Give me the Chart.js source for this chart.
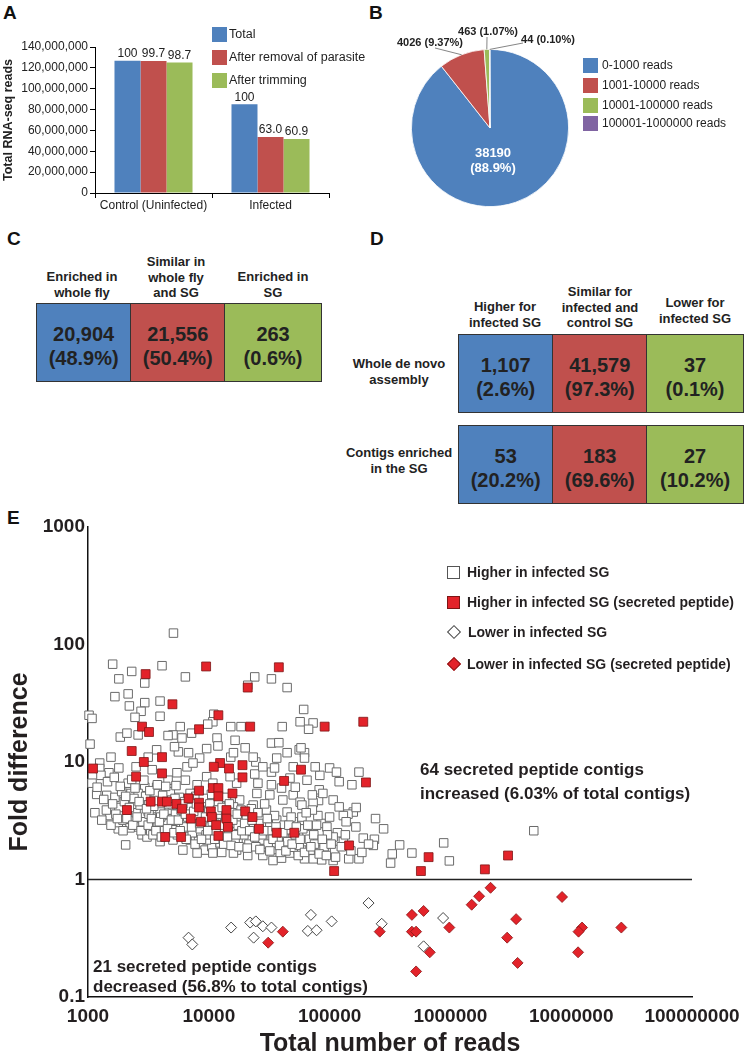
<!DOCTYPE html>
<html>
<head>
<meta charset="utf-8">
<script src="https://cdn.jsdelivr.net/npm/chart.js@4.4.0/dist/chart.umd.min.js"></script>
<style>
  body { margin: 0; background: #fff; font-family: "Liberation Sans", Arial, sans-serif; color: #222; }
  #page { position: relative; width: 748px; height: 1057px; overflow: hidden; }
  canvas { position: absolute; }
  .letter { position: absolute; font-weight: bold; font-size: 19px; line-height: 20px; color: #111; }
  .lg { position: absolute; display: flex; align-items: center; height: 16px; white-space: nowrap; }
  .sw { width: 15px; height: 15px; flex: none; }
  .hdr { position: absolute; font-weight: bold; font-size: 13px; line-height: 15.5px; text-align: center; white-space: nowrap; }
  .box { position: absolute; display: flex; border: 1.5px solid #333; box-sizing: border-box; }
  .cell { height: 100%; display: flex; align-items: center; justify-content: center; text-align: center;
          font-weight: bold; font-size: 20px; line-height: 24.5px; padding-top: 7px; box-sizing: border-box; color: #222; }
  .cell + .cell { border-left: 1.5px solid #333; }
  .note { position: absolute; font-weight: bold; font-size: 17px; white-space: nowrap; color: #231f20; }
  .elg { position: absolute; display: flex; align-items: center; height: 18px; font-weight: bold; font-size: 14px; white-space: nowrap; color: #231f20; }
  .mk { width: 13px; height: 13px; box-sizing: border-box; margin-right: 7px; flex: none; }
</style>
</head>
<body>
<div id="page">
  <div class="letter" style="left:3px;top:3px">A</div>
  <div class="letter" style="left:369px;top:3px">B</div>
  <div class="letter" style="left:7px;top:229px">C</div>
  <div class="letter" style="left:370px;top:229px">D</div>
  <div class="letter" style="left:7px;top:508px">E</div>

  <canvas id="barChart" width="340" height="215" style="left:0;top:0"></canvas>
  <div id="barLegend"></div>

  <canvas id="pieChart" width="210" height="200" style="left:380px;top:20px"></canvas>
  <div id="pieLegend"></div>

  <div id="panelC"></div>
  <div id="panelD"></div>

  <canvas id="scatterChart" width="748" height="547" style="left:0;top:510px"></canvas>
  <div id="scatterLegend"></div>
  <div class="note" style="left:420px;top:758px;line-height:24px">64 secreted peptide contigs<br>increased (6.03% of total contigs)</div>
  <div class="note" style="left:93px;top:957px;line-height:20px">21 secreted peptide contigs<br>decreased (56.8% to total contigs)</div>
</div>

<script>
// ---- Panel A: total reads ----
const groupLabels = ['Control (Uninfected)', 'Infected'];
const readsTotal = [126900000, 85000000];
const readsNoParasite = [126500000, 53600000];
const readsTrimmed = [125200000, 51800000];
const pctTotal = ['100', '100'];
const pctNoParasite = ['99.7', '63.0'];
const pctTrimmed = ['98.7', '60.9'];
const barSeriesNames = ['Total', 'After removal of parasite', 'After trimming'];

// ---- Panel B: contigs by read count ----
const binLabels = ['0-1000 reads', '1001-10000 reads', '10001-100000 reads', '100001-1000000 reads'];
const binCounts = [38190, 4026, 463, 44];
const binText = ['38190|(88.9%)', '4026 (9.37%)', '463 (1.07%)', '44 (0.10%)'];

// ---- Panel C / D ----
const cHeaders = ['Enriched in<br>whole fly', 'Similar in<br>whole fly<br>and SG', 'Enriched in<br>SG'];
const cCounts = ['20,904', '21,556', '263'];
const cShares = ['48.9%', '50.4%', '0.6%'];
const dHeaders = ['Higher for<br>infected SG', 'Similar for<br>infected and<br>control SG', 'Lower for<br>infected SG'];
const dRowNames = ['Whole de novo<br>assembly', 'Contigs enriched<br>in the SG'];
const dCounts = [['1,107', '41,579', '37'], ['53', '183', '27']];
const dShares = [['2.6%', '97.3%', '0.1%'], ['20.2%', '69.6%', '10.2%']];

// ---- Panel E: fold difference vs reads ----
const higherSG = [
  [5100,125],[1600,68],[2300,59],[1800,51],[2950,47],[4100,66],[6400,53],[24000,53],[33000,51],[44500,43],
  [21000,45],[1670,36],[2150,38],[2200,30],[2950,32],[3950,33],[1020,25],[1080,23.5],[2750,27],[2450,24],
  [3950,24.5],[11000,25.5],[10800,22],[9800,21],[61000,28],[57000,22],[73000,21.5],[67000,19],[40500,20],[15200,20],
  [18500,20],[5800,20],[7200,17.6],[1850,16.3],[2100,17.6],[2600,17],[5050,17],[6000,16],[4600,16.8],[11700,16],
  [11900,13.7],[16500,15.3],[20000,13.2],[33000,14.5],[38000,14.6],[56000,12.7],[62000,12],[9600,13],[6800,12],[5600,12.2],
  [1550,11],[1250,9.8],[1040,14.2],[1080,6.6],[1180,5.3],[1140,3.7],[15200,11],[24500,10],[24000,7.9],[33000,8.2],
  [36500,10.8],[58000,13.2],[83000,7.7],[120000,6.8],[153000,6.4],[175000,8.2],[82000,5.8],[81000,4.7],[73000,4.5],[157000,3.75],
  [142000,3.6],[130000,3.5],[137000,3.1],[240000,3.3],[235000,2.2],[230000,1.95],[190000,2.25],[175000,1.5],[144000,1.5],[116000,2.5],
  [107000,1.45],[86000,1.47],[73000,1.5],[62000,1.5],[85000,3],[73000,2.5],[60000,2.1],[92000,2.05],[80000,1.78],[2050,1.97],
  [1780,2.7],[1780,3.05],[1520,3.5],[1250,8.8],[1490,8.1],[1280,7.7],[1800,8.9],[1190,6.1],[1430,5.2],[1670,5],
  [1800,4.1],[2270,5.4],[2150,6.6],[2500,9.1],[3400,8.6],[3150,11],[3700,12.7],[5200,13.5],[6600,9.1],[5450,8.1],
  [8400,10.8],[7400,9.8],[4600,7],[6400,7],[3700,6.1],[2950,6.1],[2600,5.4],[3100,4.55],[2360,3.4],[2600,2.8],
  [2800,2.4],[3400,2.8],[3700,3.4],[4500,3],[5450,2.8],[5050,3.3],[6100,1.78],[7000,2.17],[8100,2.5],[9300,1.78],
  [10600,1.9],[12800,1.7],[17000,1.78],[21000,1.6],[28000,1.6],[34000,1.45],[40000,1.52],[47000,1.68],[55000,1.78],[44500,1.9],
  [37000,1.8],[30000,1.9],[25000,2.05],[18000,2.1],[15000,2.3],[23300,2.5],[30000,2.3],[42000,2.3],[54000,2.17],[65000,2.4],
  [47000,2.65],[32000,2.8],[22000,2.9],[16500,2.8],[18000,3.2],[26500,3.3],[36500,3.2],[50000,3.1],[59000,3.4],[44500,3.75],
  [30000,3.9],[23300,4.3],[18000,4.75],[25000,5.4],[32000,5.25],[41000,4.75],[50000,5.25],[57000,4.55],[33000,6.4],[40000,6],
  [25500,6.6],[17000,6.6],[15000,7.5],[9600,7.5],[10800,6.6],[8000,6.4],[7000,5.4],[9600,4.75],[12400,4.3],[16000,4.15],
  [9000,3.7],[7000,3.7],[6000,3.2],[3950,3.75],[3150,3.8],[2360,4.15],[1950,3.2],[2230,2.75],[3080,2.3],[3950,2.1],
  [5050,2.17],[6600,2.3],[9600,2.17],[12400,2.05],[16000,1.68],[10800,1.68],[8000,1.68],[5050,2.65],[8000,2.9],[12400,2.65],
  [16000,2.55],[20500,2.17],[28000,2.17],[36500,2.05],[50000,1.88],[69000,1.78],[55000,1.6],[110000,1.8],[130000,2.1],[107000,2.3],
  [95000,2.8],[100000,3.4],[80000,3.5],[72000,3.9],[59000,4.3],[72000,5.25],[52000,6.1],[65000,7],[47000,7.3],[50000,9.1],
  [35000,8.9],[28000,9.1],[23300,11],[16000,12],[44500,12],[62000,10.8],[76000,9.1],[100000,8.9],[114000,8.2],[88000,5.4],
  [107000,4.75],[120000,4.15],[166000,4.1],[280000,2.7],[380000,1.97],[330000,1.65],[320000,1.38],[480000,1.68],[880000,2.05],[980000,1.44],
  [4900000,2.6],
  [1350,4.8],[1420,3.9],[1600,4.4],[1700,3.6],[1900,5.6],[2000,4.6],[2100,3.3],[2400,4.9],[2500,3.7],[2700,4.3],
  [2850,3.1],[3000,5.1],[3200,3.6],[3300,2.6],[3500,4.2],[3600,5.4],[3800,2.9],[4000,3.4],[4200,4.8],[4300,2.6],
  [4700,3.9],[4800,5.6],[5000,4.3],[5300,3.6],[5500,2.4],[5700,5.0],[5900,3.9],[6200,2.8],[6300,4.6],[6700,3.4],
  [7100,4.1],[7300,2.5],[7600,3.0],[7800,5.1],[8200,3.5],[8500,2.7],[8800,4.3],[9200,3.1],[9500,2.4],[10000,3.9],
  [10300,2.8],[10500,5.3],[11000,3.3],[11500,2.5],[12000,4.6],[12600,3.6],[13000,2.3],[13500,3.0],[14000,5.0],[14500,2.6],
  [15500,3.7],[16500,2.1],[17500,2.9],[18500,3.9],[19500,2.4],[20500,3.4],[21500,2.0],[22500,4.0],[23500,2.7],[24500,1.9],
  [26000,3.0],[27500,2.4],[29000,4.4],[31000,2.0],[33000,2.6],[35000,3.5],[37500,2.2],[39000,1.7],[42000,2.9],[45000,2.1],
  [48000,3.4],[52000,2.4],[56000,1.95],[60000,2.7],[64000,3.7],[68000,2.2],[75000,2.0],[78000,2.9],[90000,1.9],[96000,2.4],
  [1300,3.2],[1450,6.8],[1550,2.9],[1650,7.4],[1750,3.3],[1850,6.2],[1950,2.6],[2050,5.1],[2200,4.1],[2300,7.1],
  [2350,2.9],[2450,6.0],[2550,3.4],[2650,4.6],[2750,2.6],[2900,7.0],[3050,4.0],[3150,2.9],[3250,5.7],[3350,3.3],
  [3450,2.4],[3550,4.7],[3650,2.6],[3750,6.4],[3900,3.1],[4050,2.3],[4150,5.2],[4250,3.6],[4400,6.2],[4550,2.7],
  [4650,4.4],[4900,3.2],[5150,2.5],[5250,4.9],[5350,6.3],[5600,3.2],[5800,2.6],[6100,4.4],[6400,3.6],[6500,2.2],
  [6900,4.9],[7200,2.8],[7500,3.8],[7700,2.0],[7900,4.4],[8400,3.0],[8700,2.2],[9000,4.9],[9400,3.4],[9800,2.6],
  [10200,4.4],[10700,3.1],[11200,2.2],[11800,3.9],[12200,2.9],[12900,4.1],[13300,2.0],[13800,3.4],[14300,2.3],[14800,4.4],
  [15300,1.95],[15800,3.2],[16800,2.4],[17200,3.6],[17800,1.9],[18800,2.6],[19800,3.0],[20800,1.85],[21800,2.6],[22800,3.2],
  [24000,2.3],[25500,3.7],[26500,1.8],[28500,2.6],[30500,3.3],[32000,1.75],[34000,2.2],[36000,2.8],[38500,1.95],[41000,2.5],
  [43500,1.75],[46000,2.9],[49000,2.0],[53000,2.8],[57000,2.2],[62000,1.7],[66000,2.9],[70000,1.9],[74000,2.4],[82000,1.65],
  [87000,2.2],[94000,1.6],[103000,2.0],[112000,1.55],[125000,1.9],[135000,2.4],[150000,1.75],[165000,2.8],[185000,1.7],[210000,2.0]
];
const higherSGSecreted = [
  [1100,8.8],[3000,56],[9500,65],[38000,64],[21000,43],[5000,31],[12000,25],[2800,20],[3200,18],[8300,19],
  [22000,20],[91000,20],[190000,22],[2300,12.4],[4100,11],[2900,10],[12400,9.8],[11000,9.1],[14700,8.8],[19000,9.4],
  [58000,8.6],[4100,8],[2500,7.5],[19000,7.4],[42000,6.9],[200000,6.7],[8300,5.7],[10800,6],[12000,6],[12000,5.1],
  [15700,5.4],[3300,4.6],[4100,4.6],[4500,4.6],[5400,4.4],[6800,4.9],[8300,4.5],[8300,4.1],[6000,4],[2100,3.9],
  [10400,3.8],[14000,3.9],[20000,3.8],[10600,3.4],[14000,3.3],[23000,3.4],[7100,3.3],[8600,3.1],[11500,2.9],[14400,2.8],
  [26000,2.7],[36500,2.5],[51000,2.5],[4350,2.3],[5900,2.3],[12000,2.35],[145000,1.95],[109000,1.18],[660000,1.55],[570000,1.18],
  [1930000,1.22],[3000000,1.6]
];
const lowerSG = [
  [6800,0.32],[7300,0.28],[15300,0.39],[22000,0.43],[24500,0.44],[28000,0.40],[33000,0.39],[23500,0.32],
  [70000,0.5],[66000,0.365],[78000,0.37],[104000,0.44],[210000,0.63],[270000,0.42],[870000,0.47],[600000,0.27]
];
const lowerSGSecreted = [
  [2150000,0.85],[1730000,0.72],[1500000,0.61],[8400000,0.71],[480000,0.5],[600000,0.54],[3500000,0.46],
  [980000,0.39],[260000,0.36],[480000,0.36],[520000,0.36],[12300000,0.39],[11500000,0.36],[26000000,0.39],
  [2950000,0.32],[675000,0.24],[11400000,0.24],[3600000,0.195],[520000,0.165],[31000,0.29],[41000,0.36]
];
const readTicks = [1000, 10000, 100000, 1000000, 10000000, 100000000];
const foldTicks = [0.1, 1, 10, 100, 1000];
const legendNamesE = ['Higher in infected SG', 'Higher in infected SG (secreted peptide)',
                      'Lower in infected SG', 'Lower in infected SG (secreted peptide)'];

const BLUE = '#4f81bd', RED = '#c0504d', GREEN = '#9bbb59', PURPLE = '#8064a2';
const FONT = '"Liberation Sans", Arial, sans-serif';
Chart.defaults.font.family = FONT;
Chart.defaults.color = '#222';

// ---------- A ----------
const barValueLabels = {
  id: 'barValueLabels',
  afterDatasetsDraw(chart) {
    const ctx = chart.ctx;
    ctx.save();
    ctx.font = '12px ' + FONT;
    ctx.fillStyle = '#222';
    ctx.textAlign = 'center';
    ctx.textBaseline = 'bottom';
    chart.data.datasets.forEach((ds, i) => {
      chart.getDatasetMeta(i).data.forEach((bar, j) => {
        ctx.fillText(ds.pctLabels[j], bar.x, bar.y - 1);
      });
    });
    ctx.restore();
  }
};

new Chart(document.getElementById('barChart'), {
  type: 'bar',
  data: {
    labels: groupLabels,
    datasets: [
      { label: barSeriesNames[0], data: readsTotal, backgroundColor: BLUE, pctLabels: pctTotal },
      { label: barSeriesNames[1], data: readsNoParasite, backgroundColor: RED, pctLabels: pctNoParasite },
      { label: barSeriesNames[2], data: readsTrimmed, backgroundColor: GREEN, pctLabels: pctTrimmed }
    ]
  },
  options: {
    responsive: false,
    animation: false,
    devicePixelRatio: 1,
    events: [],
    layout: { padding: { left: 0, right: 11, top: 47, bottom: 0 } },
    categoryPercentage: 0.667,
    barPercentage: 1.0,
    plugins: { legend: { display: false }, tooltip: { enabled: false } },
    scales: {
      y: {
        min: 0, max: 140000000,
        afterFit: s => { s.width = 95; },
        ticks: { stepSize: 20000000, padding: 2, font: { size: 12 }, color: '#222',
                 callback: v => v.toLocaleString('en-US') },
        grid: { drawOnChartArea: false, drawTicks: true, tickLength: 5, color: '#000' },
        border: { display: true, color: '#000', width: 1 },
        title: { display: true, text: 'Total RNA-seq reads', font: { size: 12.5, weight: 'bold' },
                 padding: { top: 1, bottom: 0 }, color: '#222' }
      },
      x: {
        afterFit: s => { s.height = 22; },
        ticks: { padding: 0, font: { size: 12 }, color: '#222' },
        grid: { drawOnChartArea: false, drawTicks: true, tickLength: 5, color: '#000' },
        border: { display: true, color: '#000', width: 1 }
      }
    }
  },
  plugins: [barValueLabels]
});

const barLegend = document.getElementById('barLegend');
[BLUE, RED, GREEN].forEach((c, i) => {
  const row = document.createElement('div');
  row.className = 'lg';
  row.style.left = '212px';
  row.style.top = (26 + i * 23) + 'px';
  row.style.fontSize = '12.5px';
  row.innerHTML = `<span class="sw" style="background:${c};margin-right:2px"></span>${barSeriesNames[i]}`;
  barLegend.appendChild(row);
});

// ---------- B ----------
const pieLabels = {
  id: 'pieLabels',
  afterDraw(chart) {
    const ctx = chart.ctx;
    const arcs = chart.getDatasetMeta(0).data;
    const cx = arcs[0].x, cy = arcs[0].y;
    ctx.save();
    // inside label of the big slice
    ctx.fillStyle = '#fff';
    ctx.font = 'bold 13px ' + FONT;
    ctx.textAlign = 'center';
    ctx.textBaseline = 'middle';
    const inner = binText[0].split('|');
    ctx.fillText(inner[0], cx + 3, cy + 25);
    ctx.fillText(inner[1], cx + 3, cy + 40);
    // outside labels with leader lines
    const spots = [null, { tx: -60, ty: -85, lx: -55, ly: -80 },
                         { tx: -2, ty: -96, lx: -3, ly: -91 },
                         { tx: 58, ty: -88, lx: 33, ly: -85 }];
    ctx.font = 'bold 11px ' + FONT;
    for (let i = 1; i < arcs.length; i++) {
      const a = arcs[i];
      const mid = (a.startAngle + a.endAngle) / 2;
      const ex = cx + Math.cos(mid) * a.outerRadius;
      const ey = cy + Math.sin(mid) * a.outerRadius;
      const s = spots[i];
      ctx.strokeStyle = '#666';
      ctx.lineWidth = 0.8;
      ctx.beginPath();
      ctx.moveTo(cx + s.lx, cy + s.ly);
      ctx.lineTo(ex, ey);
      ctx.stroke();
      ctx.fillStyle = '#222';
      ctx.fillText(binText[i], cx + s.tx, cy + s.ty);
    }
    ctx.restore();
  }
};

new Chart(document.getElementById('pieChart'), {
  type: 'pie',
  data: {
    labels: binLabels,
    datasets: [{ data: binCounts, backgroundColor: [BLUE, RED, GREEN, PURPLE], borderColor: '#fff', borderWidth: 0.8 }]
  },
  options: {
    responsive: false,
    animation: false,
    devicePixelRatio: 1,
    events: [],
    layout: { padding: { left: 31, right: 21, top: 29, bottom: 13 } },
    plugins: { legend: { display: false }, tooltip: { enabled: false } }
  },
  plugins: [pieLabels]
});

const pieLegend = document.getElementById('pieLegend');
[BLUE, RED, GREEN, PURPLE].forEach((c, i) => {
  const row = document.createElement('div');
  row.className = 'lg';
  row.style.left = '583px';
  row.style.top = ([57, 77, 97, 115][i]) + 'px';
  row.style.fontSize = '12px';
  row.innerHTML = `<span class="sw" style="background:${c};margin-right:4px"></span>${binLabels[i]}`;
  pieLegend.appendChild(row);
});

// ---------- C ----------
const cellColors = [BLUE, RED, GREEN];
function makeBox(left, top, counts, shares) {
  const box = document.createElement('div');
  box.className = 'box';
  box.style.left = left + 'px';
  box.style.top = top + 'px';
  box.style.width = '286px';
  box.style.height = '79px';
  [95, 94, 97].forEach((w, i) => {
    const cell = document.createElement('div');
    cell.className = 'cell';
    cell.style.width = (w - (i === 0 ? 1.5 : 0)) + 'px';
    cell.style.background = cellColors[i];
    cell.innerHTML = `${counts[i]}<br>(${shares[i]})`;
    box.appendChild(cell);
  });
  return box;
}
const panelC = document.getElementById('panelC');
const cHdrPos = [[82, 269], [176, 254], [273, 269]];
cHeaders.forEach((h, i) => {
  const d = document.createElement('div');
  d.className = 'hdr';
  d.style.left = (cHdrPos[i][0] - 60) + 'px';
  d.style.width = '120px';
  d.style.top = cHdrPos[i][1] + 'px';
  d.innerHTML = h;
  panelC.appendChild(d);
});
panelC.appendChild(makeBox(36, 303, cCounts, cShares));

// ---------- D ----------
const panelD = document.getElementById('panelD');
const dHdrPos = [[505, 299], [600, 284], [695, 295]];
dHeaders.forEach((h, i) => {
  const d = document.createElement('div');
  d.className = 'hdr';
  d.style.left = (dHdrPos[i][0] - 60) + 'px';
  d.style.width = '120px';
  d.style.top = dHdrPos[i][1] + 'px';
  d.innerHTML = h;
  panelD.appendChild(d);
});
dRowNames.forEach((r, i) => {
  const d = document.createElement('div');
  d.className = 'hdr';
  d.style.left = '339px';
  d.style.width = '120px';
  d.style.top = [356, 445][i] + 'px';
  d.innerHTML = r;
  panelD.appendChild(d);
  panelD.appendChild(makeBox(458, [334, 425][i], dCounts[i], dShares[i]));
});

// ---------- E ----------
const unitLine = {
  id: 'unitLine',
  beforeDatasetsDraw(chart) {
    const { ctx, chartArea, scales } = chart;
    const y = scales.y.getPixelForValue(1);
    ctx.save();
    ctx.strokeStyle = '#222';
    ctx.lineWidth = 1.5;
    ctx.beginPath();
    ctx.moveTo(chartArea.left, y);
    ctx.lineTo(chartArea.right, y);
    ctx.stroke();
    ctx.restore();
  }
};
const toPts = arr => arr.map(p => ({ x: p[0], y: p[1] }));

// higher "order" is drawn first, so the red marks sit on top of the white ones
new Chart(document.getElementById('scatterChart'), {
  type: 'scatter',
  data: {
    datasets: [
      { label: legendNamesE[0], data: toPts(higherSG), pointStyle: 'rect', pointRadius: 6, order: 4,
        backgroundColor: '#fff', borderColor: '#6a6a6a', borderWidth: 1, clip: false },
      { label: legendNamesE[1], data: toPts(higherSGSecreted), pointStyle: 'rect', pointRadius: 6.3, order: 3,
        backgroundColor: '#e3232a', borderColor: '#7d1515', borderWidth: 0.8, clip: false },
      { label: legendNamesE[2], data: toPts(lowerSG), pointStyle: 'rectRot', pointRadius: 5.5, order: 2,
        backgroundColor: '#fff', borderColor: '#444', borderWidth: 1, clip: false },
      { label: legendNamesE[3], data: toPts(lowerSGSecreted), pointStyle: 'rectRot', pointRadius: 5.5, order: 1,
        backgroundColor: '#e3232a', borderColor: '#8a1717', borderWidth: 0.8, clip: false }
    ]
  },
  options: {
    responsive: false,
    animation: false,
    devicePixelRatio: 1,
    events: [],
    layout: { padding: { left: 0, right: 56, top: 17, bottom: 0 } },
    plugins: { legend: { display: false }, tooltip: { enabled: false } },
    scales: {
      x: {
        type: 'logarithmic', min: 1000, max: 100000000,
        afterFit: s => { s.height = 60; },
        afterBuildTicks: s => { s.ticks = readTicks.map(v => ({ value: v })); },
        ticks: { padding: 8, font: { size: 19, weight: 'bold' }, color: '#231f20', maxRotation: 0,
                 autoSkip: false, callback: v => String(v) },
        grid: { display: false, drawTicks: false },
        border: { display: true, color: '#111', width: 1.5 },
        title: { display: true, text: 'Total number of reads', font: { size: 25, weight: 'bold', lineHeight: 1 },
                 padding: { top: 0, bottom: 0 }, color: '#231f20' }
      },
      y: {
        type: 'logarithmic', min: 0.1, max: 1000,
        afterFit: s => { s.width = 88; },
        afterBuildTicks: s => { s.ticks = foldTicks.map(v => ({ value: v })); },
        ticks: { padding: 3, font: { size: 19, weight: 'bold' }, color: '#231f20', autoSkip: false,
                 callback: v => String(v) },
        grid: { display: false, drawTicks: false },
        border: { display: true, color: '#111', width: 1.5 },
        title: { display: true, text: 'Fold difference', font: { size: 25, weight: 'bold', lineHeight: 1 },
                 padding: { top: 8, bottom: 0 }, color: '#231f20' }
      }
    }
  },
  plugins: [unitLine]
});

const scatterLegend = document.getElementById('scatterLegend');
const markCss = [
  'background:#fff;border:1px solid #555',
  'background:#e3232a;border:1px solid #7d1515',
  'background:#fff;border:1px solid #444;width:10px;height:10px;transform:rotate(45deg);margin-left:2px;margin-right:9px',
  'background:#e3232a;border:1px solid #8a1717;width:10px;height:10px;transform:rotate(45deg);margin-left:2px;margin-right:8px'
];
[563, 593, 623, 655].forEach((top, i) => {
  const row = document.createElement('div');
  row.className = 'elg';
  row.style.left = '447px';
  row.style.top = top + 'px';
  row.innerHTML = `<span class="mk" style="${markCss[i]}"></span>${legendNamesE[i]}`;
  scatterLegend.appendChild(row);
});
</script>
</body>
</html>
